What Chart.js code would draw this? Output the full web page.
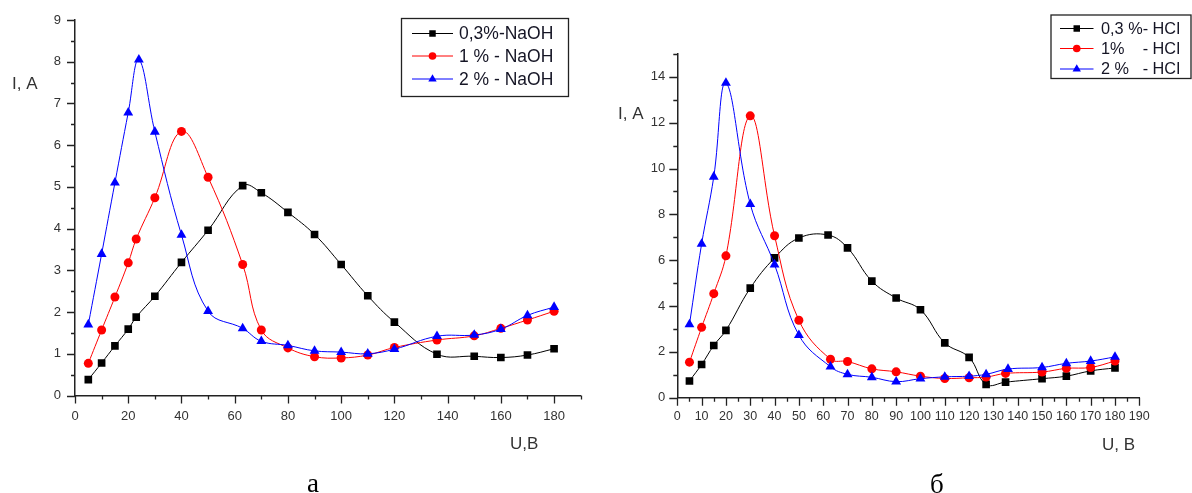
<!DOCTYPE html>
<html><head><meta charset="utf-8">
<script src="https://cdn.jsdelivr.net/npm/chart.js@4.4.1/dist/chart.umd.min.js"></script>
<style>
html,body{margin:0;padding:0;background:#fff;width:1192px;height:493px;overflow:hidden;}
canvas{position:absolute;top:0;}
#cA{left:0;} #cB{left:596px;}
</style></head>
<body>
<canvas id="cA" width="596" height="493"></canvas>
<canvas id="cB" width="596" height="493"></canvas>
<script>
// ---- Chart а : NaOH ----
const naohLabels = ['0,3%-NaOH', '1 % - NaOH', '2 % - NaOH'];
const naohU03 = [5,10,15,20,23,30,40,50,63,70,80,90,100,110,120,136,150,160,170,180];
const naohI03 = [0.38,0.78,1.19,1.59,1.88,2.38,3.19,3.96,5.03,4.86,4.39,3.86,3.14,2.39,1.76,0.99,0.94,0.91,0.97,1.12];
const naohU1  = [5,10,15,20,23,30,40,50,63,70,80,90,100,110,120,136,150,160,170,180];
const naohI1  = [0.77,1.57,2.36,3.18,3.75,4.74,6.33,5.23,3.14,1.57,1.14,0.93,0.90,0.97,1.15,1.33,1.43,1.61,1.81,2.02];
const naohU2  = [5,10,15,20,24,30,40,50,63,70,80,90,100,110,120,136,150,160,170,180];
const naohI2  = [1.70,3.39,5.10,6.78,8.05,6.32,3.85,2.02,1.61,1.30,1.20,1.07,1.04,1.00,1.11,1.42,1.45,1.59,1.92,2.12];

// ---- Chart б : HCl ----
const hclLabels = ['0,3 %- HCI', '1%    - HCI', '2 %   - HCI'];
const hclU03 = [5,10,15,20,30,40,50,62,70,80,90,100,110,120,127,135,150,160,170,180];
const hclI03 = [0.73,1.45,2.28,2.94,4.78,6.10,6.97,7.10,6.54,5.09,4.35,3.84,2.39,1.76,0.58,0.68,0.83,0.94,1.17,1.30];
const hclU1  = [5,10,15,20,30,40,50,63,70,80,90,100,110,120,127,135,150,160,170,180];
const hclI1  = [1.55,3.07,4.54,6.19,12.30,7.07,3.38,1.68,1.58,1.26,1.13,0.94,0.84,0.87,0.90,1.06,1.12,1.28,1.32,1.60];
const hclU2  = [5,10,15,20,30,40,50,63,70,80,90,100,110,120,127,136,150,160,170,180];
const hclI2  = [3.20,6.71,9.64,13.74,8.45,5.81,2.73,1.35,1.02,0.89,0.70,0.83,0.91,0.94,1.02,1.25,1.32,1.50,1.60,1.78];

// axis texts
const yTitle = 'I, A';
const xTitleA = 'U,B';
const xTitleB = 'U, B';
const captionA = 'а';
const captionB = 'б';

Chart.defaults.font.family = '"Liberation Sans", Arial, sans-serif';
Chart.defaults.color = '#2a2a2a';

const toPts = (xs, ys) => xs.map((x, i) => ({x, y: ys[i]}));

function makeDatasets(labels, sets) {
  const styles = [
    {c:'#000000', ps:'rect', r:5.4, order:2},
    {c:'#ff0000', ps:'circle', r:4.5, order:1},
    {c:'#0000ff', ps:'triangle', r:5.7, order:0}
  ];
  return sets.map((s, i) => ({
    label: labels[i],
    data: toPts(s[0], s[1]),
    borderColor: styles[i].c,
    backgroundColor: styles[i].c,
    pointBackgroundColor: styles[i].c,
    pointBorderColor: styles[i].c,
    pointStyle: styles[i].ps,
    pointRadius: styles[i].r,
    pointBorderWidth: 0,
    borderWidth: 1,
    tension: 0.4,
    order: styles[i].order,
    fill: false
  }));
}

const originTicks = {
  id: 'originTicks',
  afterDraw(chart, args, o) {
    const ctx = chart.ctx;
    ctx.save();
    ctx.strokeStyle = '#222';
    ctx.lineWidth = 1.3;
    const xs = chart.scales.x, ys = chart.scales.y;
    const isMaj = (v, m) => Math.abs(v / m - Math.round(v / m)) < 1e-6;
    ctx.beginPath();
    xs.ticks.forEach(t => {
      const px = Math.round(xs.getPixelForValue(t.value)) + 0.5;
      const L = isMaj(t.value, o.xMajor) ? 8 : 4;
      ctx.moveTo(px, xs.top); ctx.lineTo(px, xs.top + L);
    });
    ys.ticks.forEach(t => {
      const py = Math.round(ys.getPixelForValue(t.value)) + 0.5;
      const L = isMaj(t.value, o.yMajor) ? 8 : 4;
      ctx.moveTo(ys.right, py); ctx.lineTo(ys.right - L, py);
    });
    ctx.stroke();
    ctx.restore();
  }
};

const boxLegend = {
  id: 'boxLegend',
  afterDraw(chart, args, o) {
    const ctx = chart.ctx;
    ctx.save();
    ctx.fillStyle = '#fff';
    ctx.fillRect(o.x, o.y, o.w, o.h);
    ctx.lineWidth = 1.3;
    ctx.strokeStyle = '#222';
    ctx.strokeRect(o.x, o.y, o.w, o.h);
    ctx.font = o.font;
    ctx.textBaseline = 'middle';
    ctx.textAlign = 'left';
    chart.data.datasets.forEach((ds, i) => {
      const cy = o.rowY[i];
      ctx.strokeStyle = ds.borderColor;
      ctx.lineWidth = 1;
      ctx.beginPath(); ctx.moveTo(o.lx0, cy); ctx.lineTo(o.lx1, cy); ctx.stroke();
      ctx.fillStyle = ds.pointBackgroundColor;
      Chart.helpers.drawPoint(ctx, {pointStyle: ds.pointStyle, radius: ds.pointRadius * 0.85, borderWidth: 0, rotation: 0}, (o.lx0 + o.lx1) / 2, cy);
      ctx.fillStyle = '#151525';
      ctx.fillText(ds.label, o.tx, cy + 1);
    });
    ctx.restore();
  }
};

const texts = {
  id: 'texts',
  afterDraw(chart, args, o) {
    const ctx = chart.ctx;
    ctx.save();
    o.items.forEach(it => {
      ctx.font = it.font;
      ctx.fillStyle = it.color || '#333';
      ctx.textBaseline = it.base || 'middle';
      ctx.textAlign = 'left';
      ctx.fillText(it.t, it.x, it.y);
    });
    ctx.restore();
  }
};

function makeChart(id, datasets, cfg) {
  return new Chart(document.getElementById(id), {
    type: 'line',
    data: {datasets},
    plugins: [originTicks, boxLegend, texts],
    options: {
      responsive: false,
      animation: false,
      devicePixelRatio: 1,
      layout: {padding: cfg.padding},
      plugins: {
        legend: {display: false},
        tooltip: {enabled: false},
        originTicks: {xMajor: cfg.xMajor, yMajor: cfg.yMajor},
        boxLegend: cfg.legend,
        texts: {items: cfg.texts}
      },
      scales: {
        x: {
          type: 'linear', min: 0, max: 190,
          afterFit: s => { s.height = cfg.xH; },
          grid: {display: true, drawOnChartArea: false, drawTicks: true, tickLength: 8, color: 'rgba(0,0,0,0)'},
          border: {display: true, color: '#222', width: 1.5},
          ticks: {stepSize: cfg.xStep, autoSkip: false, maxRotation: 0, padding: cfg.xPad, color: '#333',
            font: {size: cfg.xFont},
            callback: v => (Math.abs(v / cfg.xMajor - Math.round(v / cfg.xMajor)) < 1e-6 ? String(v) : '')}
        },
        y: {
          type: 'linear', min: 0, max: cfg.yMax,
          afterFit: s => { s.width = cfg.yW; },
          grid: {display: true, drawOnChartArea: false, drawTicks: true, tickLength: 8, color: 'rgba(0,0,0,0)'},
          border: {display: true, color: '#222', width: 1.5},
          ticks: {stepSize: cfg.yStep, autoSkip: false, padding: cfg.yPad, color: '#333',
            font: {size: 13},
            callback: v => (Math.abs(v / cfg.yMajor - Math.round(v / cfg.yMajor)) < 1e-6 ? String(v) : '')}
        }
      }
    }
  });
}

makeChart('cA', makeDatasets(naohLabels, [[naohU03, naohI03], [naohU1, naohI1], [naohU2, naohI2]]), {
  padding: {left: 0, top: 20, right: 15.3, bottom: 0},
  xH: 97.5, yW: 75, yMax: 9, xStep: 10, xMajor: 20, yStep: 0.5, yMajor: 1,
  xPad: 5, yPad: 6, xFont: 13,
  legend: {x: 401.5, y: 18.5, w: 167, h: 78, rowY: [33.5, 56, 79], lx0: 412, lx1: 453, tx: 459, font: '17.5px "Liberation Sans", Arial, sans-serif'},
  texts: [
    {t: yTitle, x: 12, y: 84, font: '17px "Liberation Sans", Arial, sans-serif'},
    {t: xTitleA, x: 510, y: 444, font: '17px "Liberation Sans", Arial, sans-serif'},
    {t: captionA, x: 307, y: 492, base: 'alphabetic', color: '#000', font: '27px "Liberation Serif", "Times New Roman", serif'}
  ]
});

makeChart('cB', makeDatasets(hclLabels, [[hclU03, hclI03], [hclU1, hclI1], [hclU2, hclI2]]), {
  padding: {left: 0, top: 54, right: 52.7, bottom: 0},
  xH: 95.3, yW: 81.3, yMax: 15, xStep: 5, xMajor: 10, yStep: 1, yMajor: 2,
  xPad: 3, yPad: 4, xFont: 12.5,
  legend: {x: 455, y: 15, w: 140, h: 63.5, rowY: [28.5, 48.5, 69], lx0: 464, lx1: 497.5, tx: 505, font: '16.3px "Liberation Sans", Arial, sans-serif'},
  texts: [
    {t: yTitle, x: 22, y: 114, font: '17px "Liberation Sans", Arial, sans-serif'},
    {t: xTitleB, x: 506, y: 445, font: '17px "Liberation Sans", Arial, sans-serif'},
    {t: captionB, x: 334, y: 493, base: 'alphabetic', color: '#000', font: '27px "Liberation Serif", "Times New Roman", serif'}
  ]
});
</script>
</body></html>
